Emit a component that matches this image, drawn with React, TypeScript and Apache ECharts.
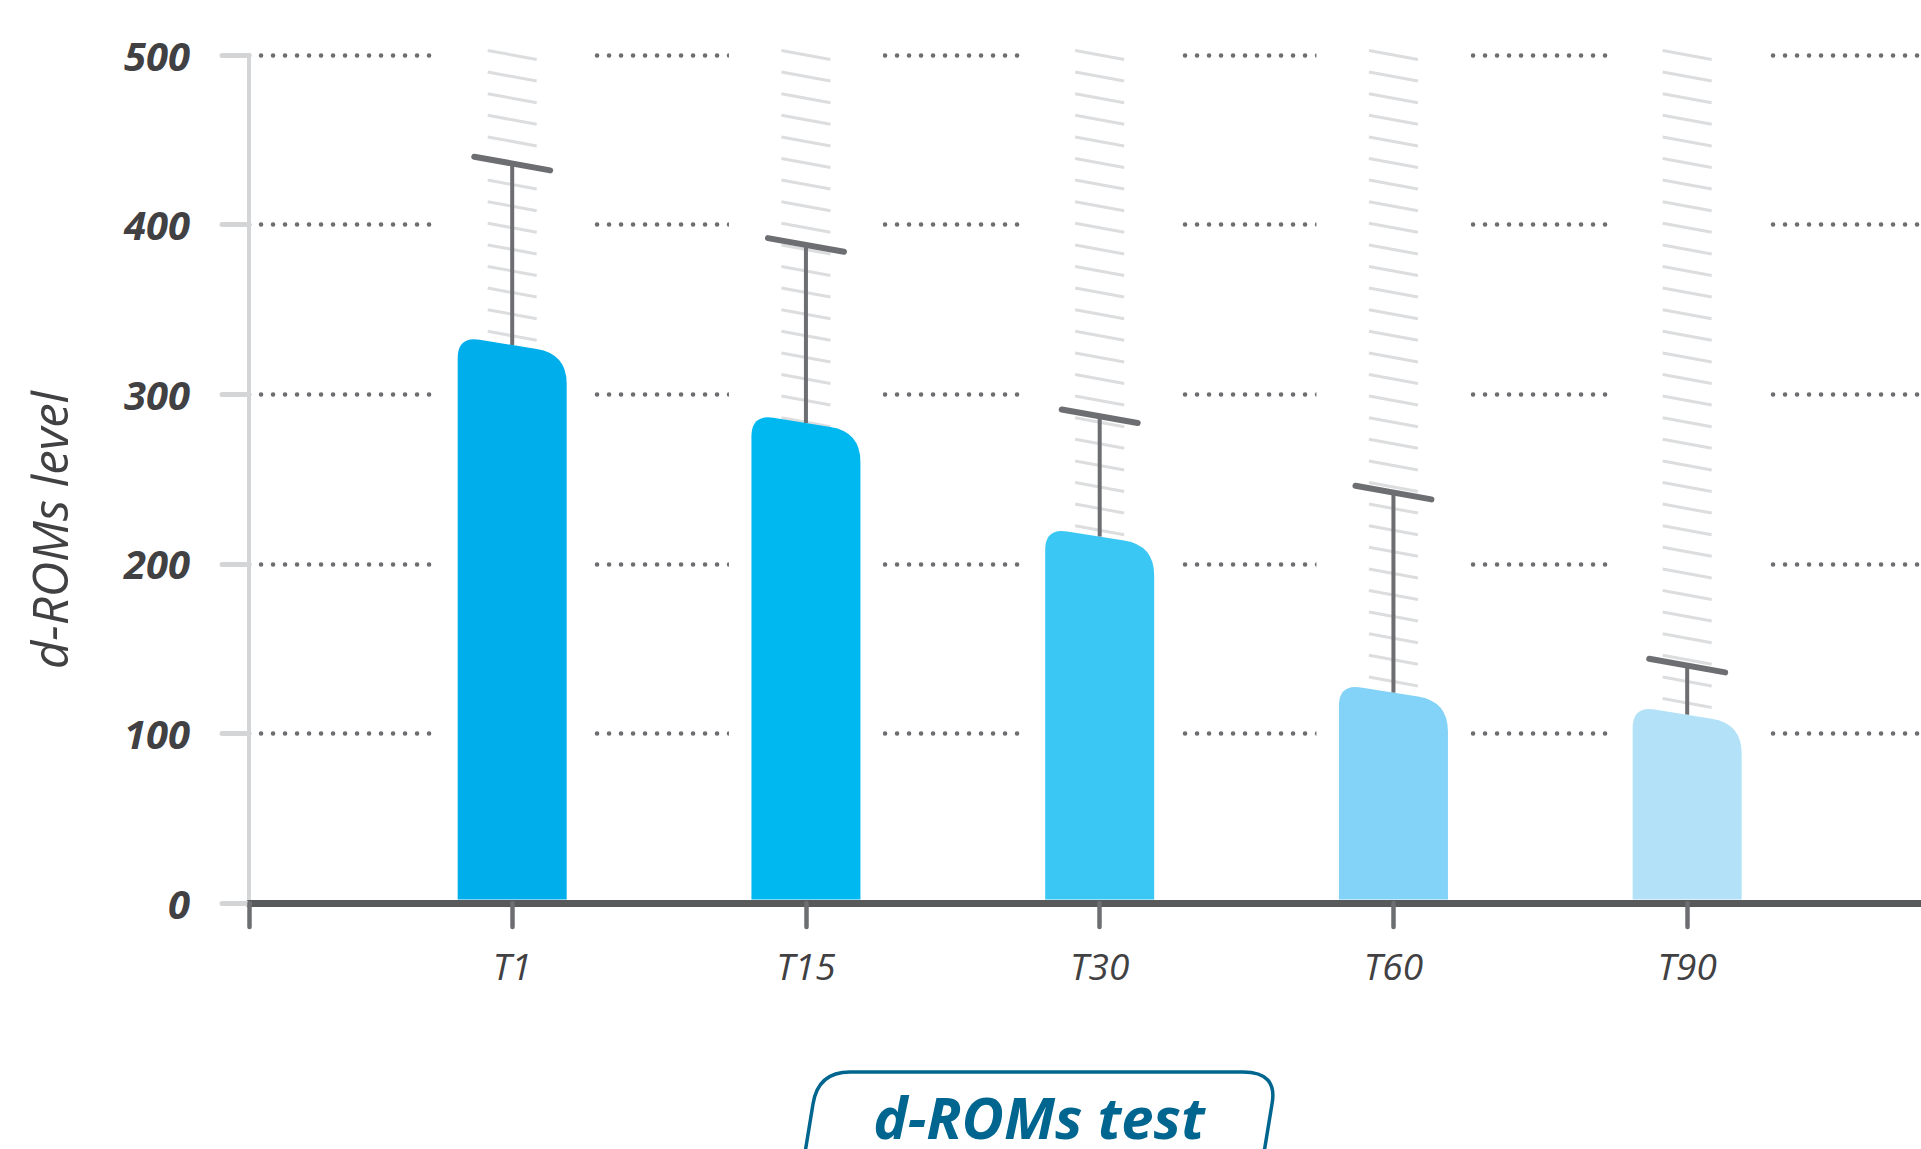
import React, { useEffect, useRef } from 'react';
import * as echarts from 'echarts';

const categories = ['T1', 'T15', 'T30', 'T60', 'T90'];
const meanValues = [329, 283, 216, 124, 111];
const upperValues = [436, 388, 287, 242, 140];
const barColors = ['#00AEEC', '#00B8F0', '#3AC7F4', '#82D3F7', '#B3E2F8'];
const yMin = 0;
const yMax = 500;
const yStep = 100;
const xMin = -0.896;
const xMax = 4.796;
const categoryPositions = [0, 1, 2, 3, 4];
const yAxisTitle = 'd-ROMs level';
const xAxisTitle = 'd-ROMs test';

const BOX_PATH =
  'M 803 1165 L 813 1104 Q 818 1072 850 1072 L 1243 1072 Q 1278 1072 1272 1104 L 1262 1165';
echarts.graphic.registerShape('titleBox', echarts.graphic.extendPath(BOX_PATH, {}));

export default function App() {
  const ref = useRef<HTMLDivElement>(null);
  useEffect(() => {
    if (!ref.current) return;
    const chart = echarts.init(ref.current, undefined, { renderer: 'svg' });
    const data = categories.map((c, i) => [categoryPositions[i], meanValues[i], upperValues[i]]);
    const option: any = {
      animation: false,
      backgroundColor: '#ffffff',
      grid: { left: 249, right: 0, top: 55, bottom: 246 },
      xAxis: {
        type: 'value',
        min: xMin,
        max: xMax,
        splitLine: { show: false },
        axisLine: { show: true, onZero: false, lineStyle: { color: '#58595B', width: 7, cap: 'round' } },
        axisTick: {
          show: true,
          length: 24,
          customValues: [xMin, ...categoryPositions],
          lineStyle: { color: '#6D6E71', width: 4.5, cap: 'round' },
        },
        axisLabel: {
          show: true,
          customValues: categoryPositions,
          formatter: (v: number) => categories[Math.round(v)] ?? '',
          margin: 44,
          fontFamily: 'Open Sans',
          fontStyle: 'italic',
          fontSize: 37,
          color: '#414042',
        },
      },
      yAxis: {
        type: 'value',
        min: yMin,
        max: yMax,
        interval: yStep,
        axisLine: { show: true, onZero: false, lineStyle: { color: '#D4D5D7', width: 4 } },
        axisTick: { show: true, length: 27, lineStyle: { color: '#D4D5D7', width: 5, cap: 'round' } },
        axisLabel: {
          margin: 59,
          fontFamily: 'Open Sans',
          fontStyle: 'italic',
          fontWeight: 'bold',
          fontSize: 40,
          color: '#414042',
        },
        splitLine: {
          show: true,
          showMinLine: false,
          lineStyle: { color: '#6D6E71', width: 4.5, type: [0.1, 11.9], cap: 'round' },
        },
      },
      series: [
        {
          type: 'custom',
          data,
          renderItem: (params: any, api: any) => {
            const idx = params.dataIndex;
            const xv = api.value(0);
            const mean = api.value(1);
            const upper = api.value(2);
            const [cx, yMean] = api.coord([xv, mean]);
            const yUpper = api.coord([xv, upper])[1];
            const yTop = api.coord([xv, yMax])[1];
            const yZero = api.coord([xv, yMin])[1];
            const children: any[] = [];
            children.push({
              type: 'rect',
              shape: { x: cx - 77, y: yTop - 8, width: 154, height: yZero - 4 - (yTop - 8) },
              style: { fill: '#ffffff' },
            });
            for (let y = yTop; y < yMean; y += 21.6) {
              children.push({
                type: 'line',
                shape: { x1: cx - 24.5, y1: y - 4.5, x2: cx + 24.5, y2: y + 4.5 },
                style: { stroke: '#DCDDDF', lineWidth: 3 },
              });
            }
            children.push({
              type: 'line',
              shape: { x1: cx, y1: yMean, x2: cx, y2: yUpper },
              style: { stroke: '#6D6E71', lineWidth: 4 },
            });
            children.push({
              type: 'line',
              shape: { x1: cx - 38, y1: yUpper - 6.8, x2: cx + 38, y2: yUpper + 6.8 },
              style: { stroke: '#6D6E71', lineWidth: 6, lineCap: 'round' },
            });
            const w = 109;
            const s = 0.16;
            const L = cx - w / 2;
            const R = cx + w / 2;
            const yl = yMean - (s * w) / 2;
            const yr = yMean + (s * w) / 2;
            const rl = 22;
            const rr = 30;
            const bottom = yZero - 3.5;
            const d =
              `M ${L} ${bottom} L ${L} ${yl + rl} Q ${L} ${yl} ${L + rl} ${yl + s * rl} ` +
              `L ${R - rr} ${yr - s * rr} Q ${R} ${yr} ${R} ${yr + rr} L ${R} ${bottom} Z`;
            children.push({
              type: 'path',
              shape: { pathData: d },
              style: { fill: barColors[idx] },
            });
            return { type: 'group', children };
          },
        },
      ],
      graphic: [
        {
          type: 'text',
          x: 49,
          y: 530,
          rotation: Math.PI / 2,
          style: {
            text: yAxisTitle,
            fontFamily: 'Open Sans',
            fontStyle: 'italic',
            fontSize: 49,
            fill: '#414042',
            align: 'center',
            verticalAlign: 'middle',
          },
        },
        {
          type: 'titleBox',
          x: 0,
          y: 0,
          style: { fill: 'none', stroke: '#00668F', lineWidth: 3.5 },
        },
        {
          type: 'text',
          x: 1039,
          y: 1116,
          style: {
            text: xAxisTitle,
            fontFamily: 'Open Sans',
            fontStyle: 'italic',
            fontWeight: 'bold',
            fontSize: 58,
            lineHeight: 40,
            fill: '#00668F',
            align: 'center',
            verticalAlign: 'middle',
          },
        },
      ],
    };
    chart.setOption(option);
    return () => chart.dispose();
  }, []);
  return (
    <div
      ref={ref}
      style={{ position: 'absolute', left: 0, top: 0, width: 1921, height: 1149 }}
    />
  );
}
